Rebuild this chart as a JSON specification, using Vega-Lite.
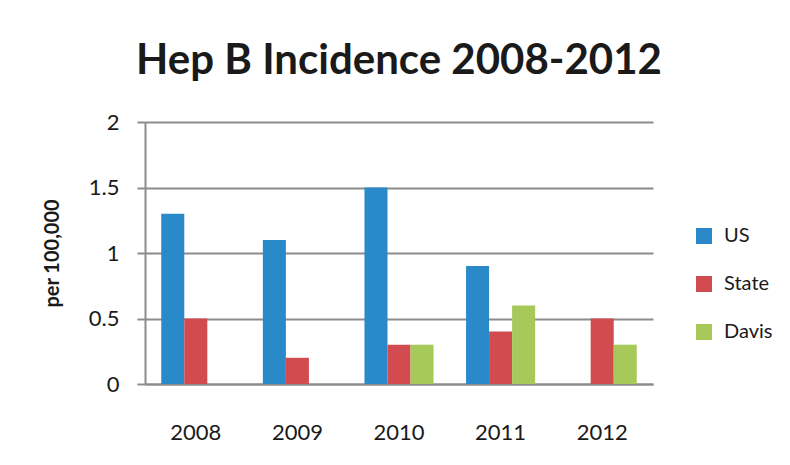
{
  "$schema": "https://vega.github.io/schema/vega-lite/v6.json",
  "autosize": {"type": "none"},
  "width": 508,
  "height": 262,
  "padding": {"left": 145, "top": 122, "right": 137, "bottom": 81},
  "background": "white",
  "title": {
    "text": "Hep B Incidence 2008-2012",
    "font": "Lato",
    "fontSize": 42,
    "fontWeight": "bold",
    "color": "#1a1a1a",
    "anchor": "middle",
    "baseline": "alphabetic",
    "offset": -5
  },
  "data": {
    "values": [
      {"year": "2008", "series": "US", "rate": 1.3},
      {"year": "2008", "series": "State", "rate": 0.5},
      {"year": "2009", "series": "US", "rate": 1.1},
      {"year": "2009", "series": "State", "rate": 0.2},
      {"year": "2010", "series": "US", "rate": 1.5},
      {"year": "2010", "series": "State", "rate": 0.3},
      {"year": "2010", "series": "Davis", "rate": 0.3},
      {"year": "2011", "series": "US", "rate": 0.9},
      {"year": "2011", "series": "State", "rate": 0.4},
      {"year": "2011", "series": "Davis", "rate": 0.6},
      {"year": "2012", "series": "State", "rate": 0.5},
      {"year": "2012", "series": "Davis", "rate": 0.3}
    ]
  },
  "mark": {"type": "bar"},
  "encoding": {
    "x": {
      "field": "year",
      "type": "nominal",
      "scale": {"paddingInner": 0.32, "paddingOuter": 0.16},
      "axis": {
        "title": null,
        "labelAngle": 0,
        "ticks": false,
        "labelPadding": 38,
        "labelFontSize": 22,
        "grid": false
      }
    },
    "xOffset": {
      "field": "series",
      "type": "nominal",
      "scale": {"domain": ["US", "State", "Davis"], "paddingInner": 0, "paddingOuter": 0}
    },
    "y": {
      "field": "rate",
      "type": "quantitative",
      "scale": {"domain": [0, 2]},
      "axis": {
        "title": "per 100,000",
        "titleFont": "Lato",
        "titleFontSize": 20,
        "titleFontWeight": "bold",
        "titleColor": "#1a1a1a",
        "titlePadding": 26,
        "values": [0, 0.5, 1, 1.5, 2],
        "format": "~g",
        "tickSize": 8,
        "labelPadding": 18,
        "labelFontSize": 22,
        "grid": true
      }
    },
    "color": {
      "field": "series",
      "type": "nominal",
      "scale": {"domain": ["US", "State", "Davis"], "range": ["#2A8AC9", "#D24B4E", "#A6C95A"]},
      "legend": {
        "title": null,
        "orient": "none",
        "legendX": 549,
        "legendY": 104,
        "symbolType": "square",
        "symbolSize": 256,
        "symbolStrokeWidth": 0,
        "labelFontSize": 20,
        "labelOffset": 10,
        "rowPadding": 28
      }
    }
  },
  "config": {
    "view": {"stroke": null},
    "font": "Lato",
    "axis": {
      "labelFont": "Lato",
      "labelColor": "#1a1a1a",
      "domainColor": "#8c8c8c",
      "domainWidth": 2,
      "tickColor": "#8c8c8c",
      "tickWidth": 2,
      "gridColor": "#8c8c8c",
      "gridWidth": 2,
      "gridOpacity": 1
    },
    "legend": {"labelFont": "Lato", "labelColor": "#1a1a1a"}
  }
}
